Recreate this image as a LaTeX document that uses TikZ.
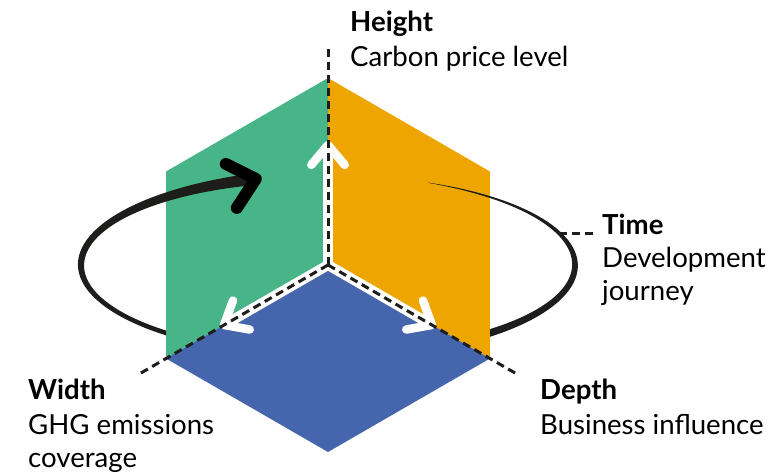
\documentclass[tikz,border=0pt]{standalone}
\usepackage{fontspec}
\setmainfont{Lato}
\usetikzlibrary{calc}

\definecolor{facegreen}{HTML}{47B588}
\definecolor{faceorange}{HTML}{EEA500}
\definecolor{faceblue}{HTML}{4565AD}
\definecolor{inkblack}{HTML}{1D1D1B}

\tikzset{
  axisgap/.style={white, line width=10pt},
  axisdash/.style={inkblack, line width=3pt, dash pattern=on 8pt off 5pt},
  chevron/.style={white, line width=8.5pt, line cap=round, line join=round},
  arrowtip/.style={black, line width=12pt, line cap=round, line join=round},
  heading/.style={anchor=base west, inner sep=0pt, font=\fontsize{27.6}{33}\selectfont\bfseries},
  % base of a multi-line caption sits on its last line
  caption/.style={anchor=base west, inner sep=0pt, align=left, font=\fontsize{27.6}{33}\selectfont},
}

\begin{document}
\begin{tikzpicture}[x=1pt, y=1pt,
  declare function={
    pr(\t)=(66-\t)/115;
    wr(\t)=0.3+7.7*(1.5*pr(\t)-0.5*pr(\t)*pr(\t));
    wl(\t)=5+7*((229-\t)/122)^2;
  }]
\useasboundingbox (0,0) rectangle (780,474);

% corner of the cube and its three axes
\coordinate (O) at (328,209);
\coordinate (T) at ($(O)+(90:187)$);
\coordinate (L) at ($(O)+(210:187)$);
\coordinate (R) at ($(O)+(330:187)$);
\coordinate (B) at ($(O)+(0,-187)$);

% faces
\fill[facegreen] (L) -- ++(0,187) -- (T) -- (O) -- cycle;
\fill[faceorange] (O) -- (T) -- ($(R)+(0,187)$) -- (R) -- cycle;
\fill[faceblue] (O) -- (L) -- (B) -- (R) -- cycle;

% white arrows out of the corner, dashed axes on top
\foreach \ang in {90,210,330} {
  \draw[axisgap] (O) -- ($(O)+(\ang:120)$);
  \draw[chevron] ($(O)+(\ang:120)+(\ang+140:26)$) -- ($(O)+(\ang:120)$) -- ($(O)+(\ang:120)+(\ang-140:26)$);
}
\foreach \ang in {90,210,330} {
  \draw[axisdash] (O) -- ($(O)+(\ang:220)$);
}

% time loop, hidden behind the cube at the bottom
\begin{scope}
\clip (0,200) rectangle (780,474) (0,0) rectangle (166,200) (490,0) rectangle (780,200);
\fill[inkblack] plot[domain=66:-60, samples=90, variable=\t]
    ({328+(247+wr(\t)/2)*cos(\t)}, {209+(90+wr(\t)/2)*sin(\t)})
  -- plot[domain=-60:66, samples=90, variable=\t]
    ({328+(247-wr(\t)/2)*cos(\t)}, {209+(90-wr(\t)/2)*sin(\t)}) -- cycle;
\fill[inkblack] plot[domain=235:107, samples=90, variable=\t]
    ({328+(247+wl(\t)/2)*cos(\t)}, {209+(90+wl(\t)/2)*sin(\t)})
  -- plot[domain=107:235, samples=90, variable=\t]
    ({328+(247-wl(\t)/2)*cos(\t)}, {209+(90-wl(\t)/2)*sin(\t)}) -- cycle;
\end{scope}
\coordinate (tip) at ($(O)+(107:247 and 90)$);
\draw[arrowtip] ($(tip)+(-30,15)$) -- (tip) -- ($(tip)+(-19,-29)$);

% labels
\node[heading] (heighthead) at (350,442) {Height};
\node[caption] (heightdesc) at (350,407) {Carbon price level};

\node[heading] (timehead) at (602,239) {Time};
\node[caption] (timedesc) at (602,173) {Development\\journey};

\node[heading] (widthhead) at (28,74) {Width};
\node[caption] (widthdesc) at (28,6) {GHG emissions\\coverage};

\node[heading] (depthhead) at (540,74) {Depth};
\node[caption] (depthdesc) at (540,39) {Business influence};

% dashed lead from the loop to its label
\coordinate (timept) at ($(O)+(20.8:247 and 90)$);
\draw[axisdash] (timept) -- ($(timept -| timehead.west)+(-9,0)$);

\end{tikzpicture}
\end{document}
